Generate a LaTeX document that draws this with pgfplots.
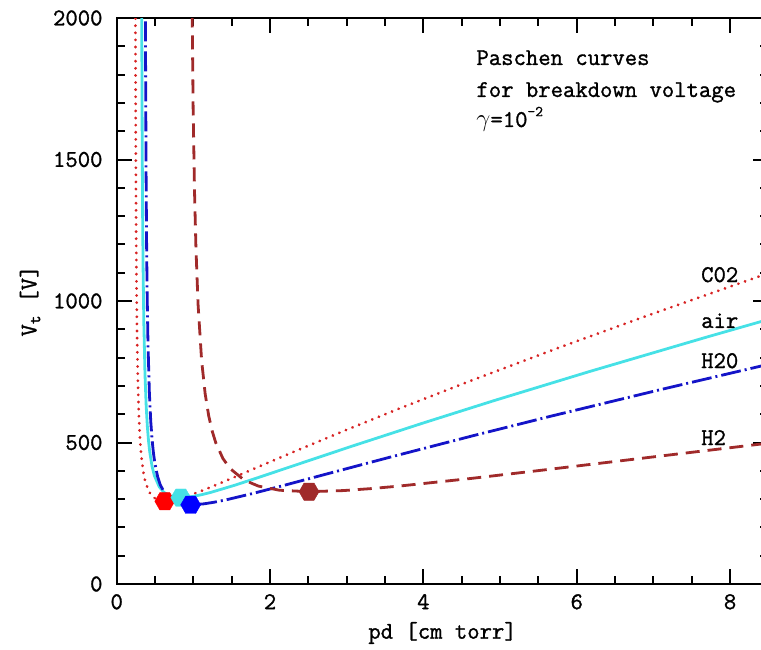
\documentclass[border=0pt]{standalone}
\usepackage{fontspec}
\setmainfont{Latin Modern Mono}[RawFeature={embolden=1.2}]
\usepackage{pgfplots}
\pgfplotsset{compat=1.18}

\definecolor{cotwo}{RGB}{215,35,35}
\definecolor{aircol}{RGB}{70,225,230}
\definecolor{htwoo}{RGB}{20,20,200}
\definecolor{htwo}{RGB}{160,42,42}

% hexagon mark, flat top and bottom
\pgfdeclareplotmark{hexagon*}{%
  \pgfpathmoveto{\pgfpointpolar{0}{\pgfplotmarksize}}%
  \pgfpathlineto{\pgfpointpolar{60}{\pgfplotmarksize}}%
  \pgfpathlineto{\pgfpointpolar{120}{\pgfplotmarksize}}%
  \pgfpathlineto{\pgfpointpolar{180}{\pgfplotmarksize}}%
  \pgfpathlineto{\pgfpointpolar{240}{\pgfplotmarksize}}%
  \pgfpathlineto{\pgfpointpolar{300}{\pgfplotmarksize}}%
  \pgfpathclose
  \pgfusepathqfillstroke}

\begin{document}
\fontsize{24}{28}\selectfont
\begin{tikzpicture}
\begin{axis}[
  at={(0,0)}, anchor=south west,
  scale only axis,
  width=651.7pt, height=566pt,
  xmin=0, xmax=8.5, ymin=0, ymax=2000,
  xtick={0,2,4,6,8}, ytick={0,500,1000,1500,2000},
  minor x tick num=3, minor y tick num=4,
  tick align=inside,
  major tick length=15pt, minor tick length=8pt,
  every tick/.style={black, line width=2pt},
  axis line style={line width=2.2pt},
  /pgf/number format/assume math mode=true,
  /pgf/number format/1000 sep={},
  scaled ticks=false,
  xticklabel style={yshift=-2pt},
  yticklabel style={xshift=-6pt},
  xlabel={pd [cm torr]},
  ylabel={V\textsubscript{t} [V]},
  xlabel style={at={(axis description cs:0.5,0)}, anchor=center, yshift=-49pt},
  ylabel style={at={(axis description cs:-0.133,0.5)}, anchor=center},
  clip=true,
]
% CO2
\addplot[cotwo, line width=3pt, line cap=round, dash pattern=on 0.1pt off 7pt] coordinates {
(0.2400,2851) (0.2423,2314) (0.2446,1956) (0.2492,1509) (0.2538,1241)
(0.2584,1063) (0.2654,884.8) (0.2769,707.8) (0.2884,602.4) (0.3000,532.8)
(0.3115,483.7) (0.3231,447.4) (0.3461,397.8) (0.3692,366.0) (0.4154,329.3)
(0.4615,310.2) (0.5307,296.9) (0.6272,292.3) (0.7384,295.8) (0.8307,302.2)
(0.9230,310.2) (1.1538,334.1) (1.3845,360.1) (1.8460,413.7) (2.3075,467.0)
(2.9998,545.0) (3.6920,620.6) (4.6150,717.9) (5.7688,835.2) (6.9225,948.4)
(8.5378,1101.9)
};
% air
\addplot[aircol, line width=2.8pt] coordinates {
(0.3200,2978) (0.3231,2417) (0.3261,2043) (0.3323,1576) (0.3384,1296)
(0.3446,1109.9) (0.3538,924.0) (0.3692,739.2) (0.3846,629.1) (0.4000,556.4)
(0.4154,505.1) (0.4307,467.3) (0.4615,415.4) (0.4923,382.3) (0.5538,343.9)
(0.6153,324.0) (0.7076,310.1) (0.8362,305.2) (0.9845,308.9) (1.1076,315.6)
(1.2307,324.0) (1.5384,348.9) (1.8460,376.1) (2.4614,432.0) (3.0767,487.7)
(3.9997,569.1) (4.9227,648.1) (6.1534,749.7) (7.6918,872.2) (8.6148,943.7)
};
% H2O
\addplot[htwoo, line width=2.8pt, dash pattern=on 20pt off 4pt on 2pt off 4pt] coordinates {
(0.3692,2729.9) (0.3728,2215.6) (0.3763,1872.9) (0.3834,1444.7) (0.3905,1188.1)
(0.3976,1017.5) (0.4083,847.1) (0.4260,677.6) (0.4438,576.7) (0.4615,510.1)
(0.4793,463.1) (0.4970,428.4) (0.5325,380.8) (0.5680,350.4) (0.6390,315.2)
(0.7100,297.0) (0.8165,284.2) (0.9649,279.8) (1.1360,283.2) (1.2780,289.3)
(1.4200,297.0) (1.7750,319.9) (2.1300,344.8) (2.8400,396.1) (3.5500,447.1)
(4.6150,521.7) (5.6800,594.1) (7.1000,687.3) (8.5200,777.5)
};
% H2
\addplot[htwo, line width=2.8pt, dash pattern=on 14pt off 8pt] coordinates {
(0.9599,3182.0) (0.9692,2582.5) (0.9784,2183.0) (0.9968,1684.0) (1.0153,1384.9)
(1.0338,1186.0) (1.0615,987.4) (1.1076,789.8) (1.1538,672.2) (1.1999,594.6)
(1.2461,539.8) (1.2922,499.3) (1.3845,443.9) (1.4768,408.5) (1.6614,367.4)
(1.8460,346.2) (2.1229,331.3) (2.5087,326.2) (2.9536,330.1) (3.3228,337.2)
(3.6920,346.2) (4.6150,372.8) (5.5380,401.9) (7.3840,461.6) (8.5839,500.4)
};
% minima
\addplot[only marks, mark=hexagon*, mark size=10pt, draw=red, fill=red] coordinates {(0.6272,292.3)};
\addplot[only marks, mark=hexagon*, mark size=10pt, draw=aircol, fill=aircol] coordinates {(0.8362,305.2)};
\addplot[only marks, mark=hexagon*, mark size=10pt, draw=blue, fill=blue] coordinates {(0.9649,279.8)};
\addplot[only marks, mark=hexagon*, mark size=10pt, draw=htwo, fill=htwo] coordinates {(2.5087,326.2)};

\node[anchor=base west] at (axis cs:7.517,1067) {C02};
\node[anchor=base west] at (axis cs:7.517,905) {air};
\node[anchor=base west] at (axis cs:7.517,763) {H20};
\node[anchor=base west] at (axis cs:7.517,491) {H2};
\node[anchor=base west, inner sep=0pt] at (axis cs:4.69,1834) {Paschen curves};
\node[anchor=base west, inner sep=0pt] at (axis cs:4.69,1721) {for breakdown voltage};
\node[anchor=base west, inner sep=0pt] at (axis cs:4.69,1615) {$\gamma$=10\raisebox{0.45em}{\fontsize{15}{15}\selectfont -2}};
\end{axis}
\pgfresetboundingbox
\path[use as bounding box] (-116.7pt,-65pt) rectangle (644.3pt,584pt);
\end{tikzpicture}
\end{document}
